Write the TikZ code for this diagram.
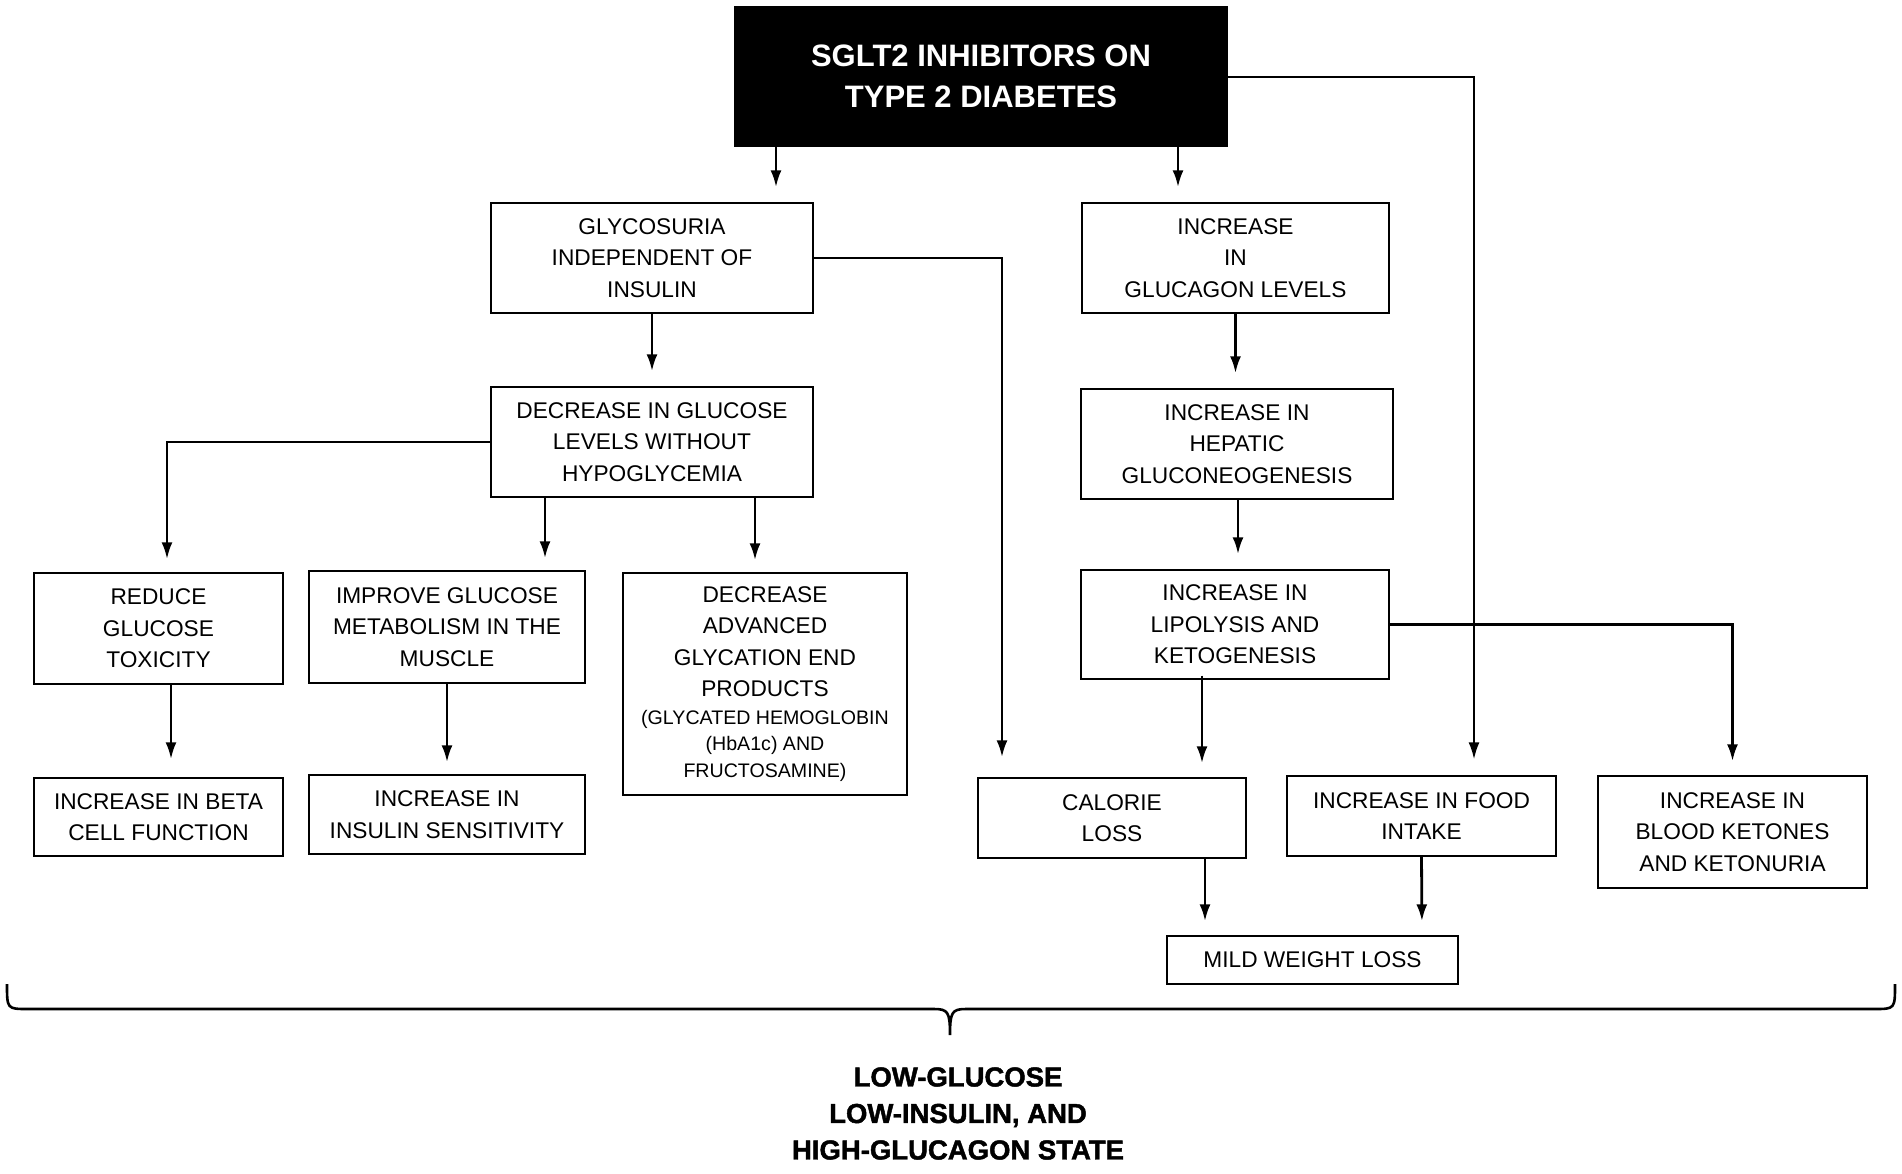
\documentclass[tikz,border=0pt]{standalone}
\usepackage{fontspec}
\setmainfont{Liberation Sans}
\newfontfamily\heavyfam{Liberation Sans Bold}[FakeBold=1.6]
\usepackage{tikz}
\usetikzlibrary{arrows.meta}
\newcommand{\boxfont}{\fontsize{22.7}{31.5}\selectfont}
\newcommand{\smallfont}{\fontsize{19.6}{26.5}\selectfont}
\newcommand{\titlefont}{\fontsize{31}{41}\selectfont\bfseries}
\newcommand{\statefont}{\fontsize{27.5}{36.5}\selectfont\heavyfam}

\begin{document}
\begin{tikzpicture}[x=1pt,y=-1pt,
  box/.style={draw, line width=1.4pt, align=center, inner sep=0pt, font=\boxfont},
  arr/.style={-{Latex[length=17pt,width=11pt]}, line width=2.8pt, shorten >=15pt}]
\useasboundingbox (0,0) rectangle (1902,1173);

\node[fill=black, text=white, font=\titlefont, align=center, minimum width=494pt, minimum height=141pt] (title) at (981,76.5) {SGLT2 INHIBITORS ON\\TYPE 2 DIABETES};
\node[box, minimum width=322pt, minimum height=110pt] (glyco) at (652,258) {GLYCOSURIA\\INDEPENDENT OF\\INSULIN};
\node[box, minimum width=307pt, minimum height=110pt] (gluc) at (1235.5,258) {INCREASE\\IN\\GLUCAGON LEVELS};
\node[box, minimum width=322pt, minimum height=110pt] (decr) at (652,442) {DECREASE IN GLUCOSE\\LEVELS WITHOUT\\HYPOGLYCEMIA};
\node[box, minimum width=312pt, minimum height=110pt] (hepatic) at (1237,444) {INCREASE IN\\HEPATIC\\GLUCONEOGENESIS};
\node[box, minimum width=308pt, minimum height=109pt] (lipo) at (1235,624.5) {INCREASE IN\\LIPOLYSIS AND\\KETOGENESIS};
\node[box, minimum width=249pt, minimum height=111pt] (reduce) at (158.5,628.5) {REDUCE\\GLUCOSE\\TOXICITY};
\node[box, minimum width=276pt, minimum height=112pt] (improve) at (447,627) {IMPROVE GLUCOSE\\METABOLISM IN THE\\MUSCLE};
\node[box, minimum width=284pt, minimum height=222pt] (adv) at (765,684) {DECREASE\\ADVANCED\\GLYCATION END\\PRODUCTS\\[-4pt]\smallfont (GLYCATED HEMOGLOBIN\\[-5pt]\smallfont (HbA1c) AND\\[-5pt]\smallfont FRUCTOSAMINE)};
\node[box, minimum width=249pt, minimum height=78pt] (beta) at (158.5,817) {INCREASE IN BETA\\CELL FUNCTION};
\node[box, minimum width=276pt, minimum height=79pt] (inssens) at (447,814.5) {INCREASE IN\\INSULIN SENSITIVITY};
\node[box, minimum width=268pt, minimum height=80pt] (calorie) at (1112,818) {CALORIE\\LOSS};
\node[box, minimum width=269pt, minimum height=80pt] (food) at (1421.5,816) {INCREASE IN FOOD\\INTAKE};
\node[box, minimum width=269pt, minimum height=112pt] (ketones) at (1732.5,832) {INCREASE IN\\BLOOD KETONES\\AND KETONURIA};
\node[box, minimum width=291pt, minimum height=48pt] (mild) at (1312.5,960) {MILD WEIGHT LOSS};
\node[font=\statefont, align=center] (state) at (958,1113.5) {LOW-GLUCOSE\\LOW-INSULIN, AND\\HIGH-GLUCAGON STATE};

\draw[arr] ([xshift=124pt]glyco.north |- title.south) -- ([xshift=124pt]glyco.north);
\draw[arr] ([xshift=-57.5pt]gluc.north |- title.south) -- ([xshift=-57.5pt]gluc.north);
\draw[arr, line width=2pt, shorten >=16pt] (title.east) -| ([xshift=52.5pt]food.north);
\draw[arr, shorten >=20pt] (glyco.east) -| ([xshift=-110pt]calorie.north);
\draw[arr] (glyco.south) -- (decr.north);
\draw[arr, shorten >=13pt] (decr.west) -| ([xshift=8.5pt]reduce.north);
\draw[arr, shorten >=12pt] ([xshift=98pt]improve.north |- decr.south) -- ([xshift=98pt]improve.north);
\draw[arr, shorten >=12pt] ([xshift=-10pt]adv.north |- decr.south) -- ([xshift=-10pt]adv.north);
\draw[arr, shorten >=18pt] ([xshift=12.5pt]reduce.south) -- ([xshift=12.5pt]beta.north);
\draw[arr, shorten >=12pt] (improve.south) -- (inssens.north);
\draw[arr] (gluc.south) -- ([xshift=-1.5pt]hepatic.north);
\draw[arr] ([xshift=1pt]hepatic.south) -- ([xshift=3pt]lipo.north);
\draw[arr, shorten >=14pt] (lipo.east) -| (ketones.north);
\draw[arr, shorten >=14pt] ([xshift=-33pt,yshift=4pt]lipo.south) -- ([xshift=90pt]calorie.north);
\draw[arr, shorten >=14pt] ([xshift=93pt]calorie.south) -- ([xshift=-107.5pt]mild.north);
\draw[arr, shorten >=14pt] (food.south) -- ([xshift=109.5pt]mild.north);

\draw[line width=2.6pt] (7,984) .. controls (7,1009) and (7,1009) .. (28,1009) -- (934,1009)
  .. controls (948,1009) and (950,1012) .. (950,1035)
  .. controls (950,1012) and (952,1009) .. (966,1009) -- (1874,1009)
  .. controls (1895,1009) and (1895,1009) .. (1895,984);
\end{tikzpicture}
\end{document}
